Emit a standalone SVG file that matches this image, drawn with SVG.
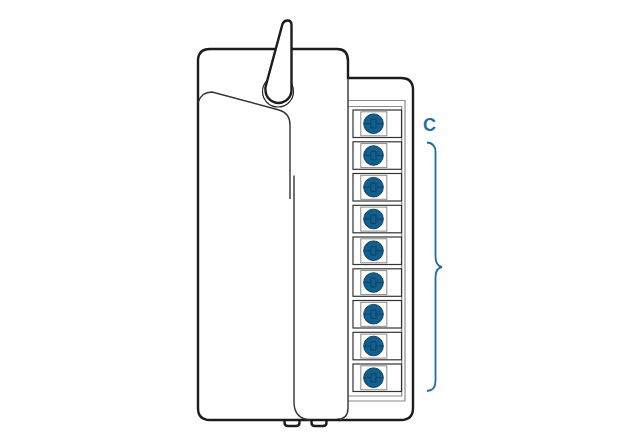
<svg xmlns="http://www.w3.org/2000/svg" width="640" height="440" viewBox="0 0 640 440">
<style>
.o{fill:#fff;stroke:#1c1c1c;stroke-width:2.4}
.n{fill:none;stroke:#1c1c1c;stroke-width:2.400}
.t{fill:#fff;stroke:#333;stroke-width:1.200}
.g{fill:none;stroke:#8a8a8a;stroke-width:1.200}
.p{fill:none;stroke:#333;stroke-width:1.400}
.b{fill:none;stroke:#1f6f9c;stroke-width:1.800}
.s{fill:#0f5f8f;stroke:#123f5c;stroke-width:1}
.x{fill:none;stroke:#123f5c;stroke-width:.9}
.lbl{font-family:"Liberation Sans",Arial,sans-serif;font-size:18px;font-weight:700;fill:#1f6f9c}
</style>
<defs>
<g id="term">
<rect x="353" y="0" width="48.500" height="27.500" class="t"/>
<rect x="360.800" y="1.800" width="26" height="24" fill="#fff" stroke="#8a8a8a" stroke-width="1"/>
<circle cx="373.500" cy="13.700" r="9.800" class="s"/>
<path class="x" d="M364 13.700H371V9.500H376V13.700H383M371 13.700V18H376V13.700"/>
</g>
</defs>
<rect width="640" height="440" fill="#fff"/>
<g id="feet">
<path class="o" d="M284.500 418V422.500Q284.500 426 288 426H296Q299.500 426 299.500 422.500V418"/>
<path class="o" d="M311.500 418V422.500Q311.500 426 315 426H323Q326.500 426 326.500 422.500V418"/>
</g>
<g id="back-panel">
<path class="o" d="M340 78H401Q413 78 413 90V408Q413 420 401 420H340Z"/>
<path class="g" d="M347 100.500H405V401H347"/>
<path class="g" d="M347 106.500H401.700V396H347"/>
</g>
<g id="terminals">
<use href="#term" y="110"/>
<use href="#term" y="141.800"/>
<use href="#term" y="173.500"/>
<use href="#term" y="205.300"/>
<use href="#term" y="237"/>
<use href="#term" y="268.800"/>
<use href="#term" y="300.500"/>
<use href="#term" y="332.300"/>
<use href="#term" y="364"/>
</g>
<g id="body">
<path fill="#fff" d="M210 49H337Q348 49 348 61V408Q348 420 337 420H210Q198 420 198 408V61Q198 49 210 49Z"/>
<path class="p" d="M348 78V408Q348 419 337 419.500"/>
<path class="n" d="M348 79V61Q348 49 337 49H210Q198 49 198 61V408Q198 420 210 420H340"/>
</g>
<g id="front-panel">
<path class="p" d="M294 175.500V402Q294 419 311 420"/>
<path class="p" d="M198 103Q201 92 212 92L279 110Q290 113 290 125V199"/>
</g>
<g id="antenna">
<circle cx="278" cy="91.500" r="15.500" fill="#fff" stroke="#2a2a2a" stroke-width="1.200"/>
<path fill="#fff" stroke="#1c1c1c" stroke-width="2.400" d="M265.500 87L282.500 24Q284 20.500 287.500 20.500Q291.500 20.500 291.500 25V90A13 13 0 0 1 265.500 90Q265.200 88.500 265.500 87Z"/>
</g>
<g id="label">
<text x="423" y="130.500" class="lbl">C</text>
<path class="b" d="M427 142.500Q435.500 143 435.500 152V256Q435.500 266 442 267Q435.500 268 435.500 278V381Q435.500 390.500 427 391"/>
</g>
</svg>
